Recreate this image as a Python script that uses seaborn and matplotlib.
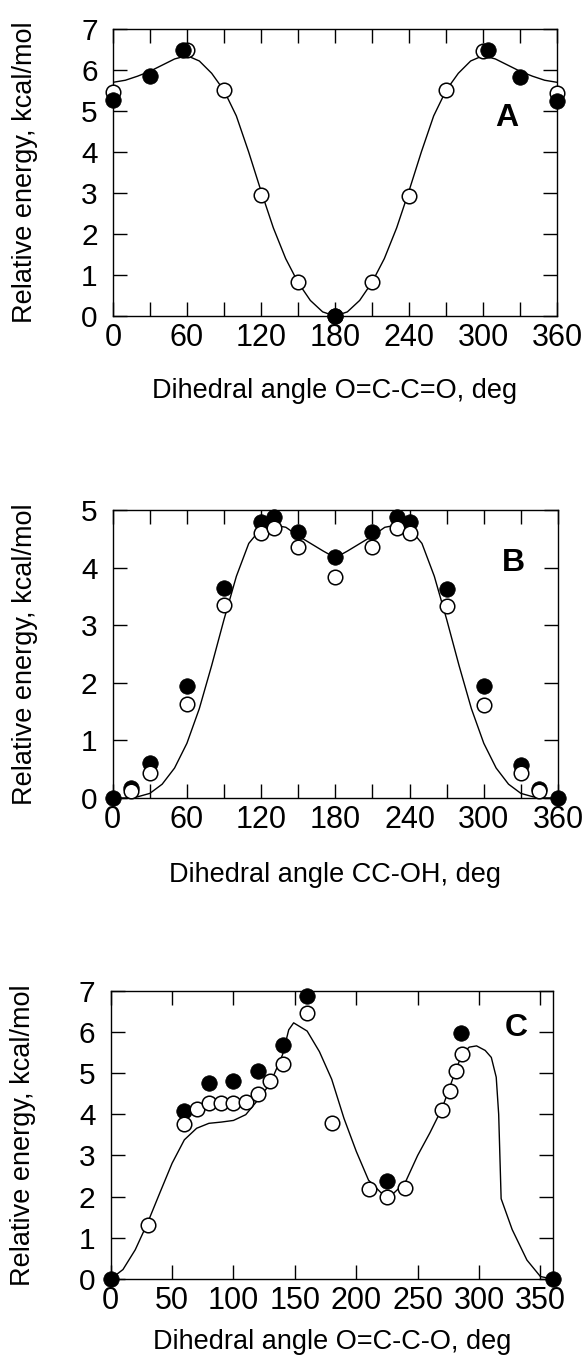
import numpy as np
import pandas as pd
import matplotlib
matplotlib.use('Agg')
import matplotlib.pyplot as plt
import seaborn as sns

sns.set_style('ticks')
plt.rcParams['font.family'] = ['Liberation Sans', 'DejaVu Sans']
plt.rcParams['text.color'] = 'black'
plt.rcParams['axes.labelcolor'] = 'black'
plt.rcParams['xtick.color'] = 'black'
plt.rcParams['ytick.color'] = 'black'

# ---- Panel A : O=C-C=O ----
a_curve_x = [0, 10, 20, 30, 40, 50, 60, 70, 80, 90, 100, 110, 120, 130, 140, 150, 160, 170, 180,
             190, 200, 210, 220, 230, 240, 250, 260, 270, 280, 290, 300, 310, 320, 330, 340, 350, 360]
a_curve_y = [5.70, 5.75, 5.85, 5.97, 6.12, 6.27, 6.35, 6.22, 5.92, 5.50, 4.88, 4.00, 3.05, 2.15, 1.40, 0.82, 0.38, 0.10, 0.00,
             0.10, 0.38, 0.82, 1.40, 2.15, 3.05, 4.00, 4.88, 5.50, 5.92, 6.22, 6.35, 6.27, 6.12, 5.97, 5.85, 5.75, 5.70]
a_open_x = [0, 60, 90, 120, 150, 180, 210, 240, 270, 300, 360]
a_open_y = [5.47, 6.50, 5.52, 2.95, 0.84, 0.00, 0.84, 2.93, 5.52, 6.47, 5.45]
a_fill_x = [0, 30, 57, 180, 304, 330, 360]
a_fill_y = [5.26, 5.85, 6.49, 0.00, 6.49, 5.82, 5.25]

# ---- Panel B : CC-OH ----
b_curve_x = a_curve_x
b_curve_y = [0.00, 0.00, 0.02, 0.08, 0.24, 0.52, 0.95, 1.55, 2.30, 3.10, 3.85, 4.42, 4.68, 4.74, 4.70, 4.55, 4.42, 4.29, 4.17,
             4.29, 4.42, 4.55, 4.70, 4.74, 4.68, 4.42, 3.85, 3.10, 2.30, 1.55, 0.95, 0.52, 0.24, 0.08, 0.02, 0.00, 0.00]
b_open_x = [15, 30, 60, 90, 120, 130, 150, 180, 210, 230, 240, 270, 300, 330, 345]
b_open_y = [0.12, 0.43, 1.63, 3.35, 4.60, 4.68, 4.36, 3.84, 4.35, 4.69, 4.60, 3.34, 1.61, 0.43, 0.12]
b_fill_x = [0, 15, 30, 60, 90, 120, 130, 150, 180, 210, 230, 240, 270, 300, 330, 345, 360]
b_fill_y = [0.00, 0.17, 0.61, 1.95, 3.65, 4.80, 4.87, 4.62, 4.18, 4.62, 4.87, 4.79, 3.62, 1.94, 0.58, 0.16, 0.00]

# ---- Panel C : O=C-C-O ----
c_curve_x = [0, 10, 20, 30, 40, 50, 60, 70, 80, 90, 100, 110, 120, 130, 140, 145, 149, 160, 170, 180,
             190, 200, 210, 220, 230, 240, 250, 260, 270, 280, 286, 292, 298, 305, 310, 314, 316, 318,
             327, 339, 350, 360]
c_curve_y = [0.00, 0.23, 0.71, 1.36, 2.09, 2.81, 3.38, 3.66, 3.78, 3.81, 3.85, 3.99, 4.35, 4.75, 5.45, 6.05, 6.22, 6.02, 5.52, 4.85,
             3.90, 3.10, 2.40, 2.10, 2.07, 2.35, 3.00, 3.55, 4.15, 4.98, 5.45, 5.63, 5.66, 5.55, 5.38, 4.90, 4.00, 1.95,
             1.20, 0.46, 0.06, 0.00]
c_open_x = [30, 60, 70, 80, 90, 100, 110, 120, 130, 140, 160, 180, 210, 225, 240, 270, 276, 281, 286]
c_open_y = [1.30, 3.76, 4.13, 4.27, 4.27, 4.27, 4.30, 4.49, 4.81, 5.22, 6.45, 3.78, 2.18, 1.99, 2.22, 4.10, 4.57, 5.04, 5.47]
c_fill_x = [0, 60, 80, 100, 120, 140, 160, 225, 285, 360]
c_fill_y = [0.00, 4.08, 4.75, 4.81, 5.04, 5.68, 6.87, 2.39, 5.98, 0.00]

ylab = 'Relative energy, kcal/mol'
panels = [
    dict(curve=(a_curve_x, a_curve_y), opn=(a_open_x, a_open_y), fil=(a_fill_x, a_fill_y),
         ymax=7, major=[0, 60, 120, 180, 240, 300, 360], minor=[30, 90, 150, 210, 270, 330],
         xlabel='Dihedral angle O=C-C=O, deg', tag='A', tagpos=(0.887, 0.691),
         pos=[113/587, 1-316/1363, 444/587, 287/1363], xl_y=-0.215, fill_top=True),
    dict(curve=(b_curve_x, b_curve_y), opn=(b_open_x, b_open_y), fil=(b_fill_x, b_fill_y),
         ymax=5, major=[0, 60, 120, 180, 240, 300, 360], minor=[30, 90, 150, 210, 270, 330],
         xlabel='Dihedral angle CC-OH, deg', tag='B', tagpos=(0.90, 0.815),
         pos=[112.7/587, 1-798/1363, 445.3/587, 288/1363], xl_y=-0.222, fill_top=False),
    dict(curve=(c_curve_x, c_curve_y), opn=(c_open_x, c_open_y), fil=(c_fill_x, c_fill_y),
         ymax=7, major=[0, 50, 100, 150, 200, 250, 300, 350], minor=[],
         xlabel='Dihedral angle O=C-C-O, deg', tag='C', tagpos=(0.918, 0.87),
         pos=[110.7/587, 1-1279/1363, 442/587, 288.3/1363], xl_y=-0.172, fill_top=False),
]

fig, axs = plt.subplots(3, 1, figsize=(5.87, 13.63), dpi=100)

for ax, p in zip(axs, panels):
    ax.set_position(p['pos'])
    sns.lineplot(x=p['curve'][0], y=p['curve'][1], color='black', linewidth=1.0,
                 sort=False, ax=ax, zorder=2)
    fz = 4 if p['fill_top'] else 3
    oz = 3 if p['fill_top'] else 4
    sns.scatterplot(x=p['fil'][0], y=p['fil'][1], color='black', edgecolor='black',
                    s=125, linewidth=0.5, ax=ax, zorder=fz, clip_on=False)
    sns.scatterplot(x=p['opn'][0], y=p['opn'][1], color='white', edgecolor='black',
                    s=110, linewidth=1.1, ax=ax, zorder=oz, clip_on=False)

    ax.set_xlim(0, 360)
    ax.set_ylim(0, p['ymax'])
    ax.set_xticks(p['major'])
    ax.set_xticklabels([str(v) for v in p['major']])
    ax.set_xticks(p['minor'], minor=True)
    ax.set_yticks(range(0, p['ymax'] + 1))
    ax.tick_params(which='both', direction='in', length=10, width=1,
                   top=True, right=True, color='black')
    ax.tick_params(axis='x', labelsize=22, pad=5)
    ax.tick_params(axis='y', labelsize=21.5, pad=11)
    for sp in ax.spines.values():
        sp.set_linewidth(1)
        sp.set_color('black')

    ax.set_xlabel(p['xlabel'], fontsize=19.5)
    ax.set_ylabel(ylab, fontsize=19.5)
    ax.xaxis.set_label_coords(0.5, p['xl_y'])
    ax.yaxis.set_label_coords(-0.168, 0.5)
    ax.text(p['tagpos'][0], p['tagpos'][1], p['tag'], transform=ax.transAxes,
            fontsize=23, fontweight='bold', ha='center', va='center')

fig.savefig('out.png', dpi=100, facecolor='white')
